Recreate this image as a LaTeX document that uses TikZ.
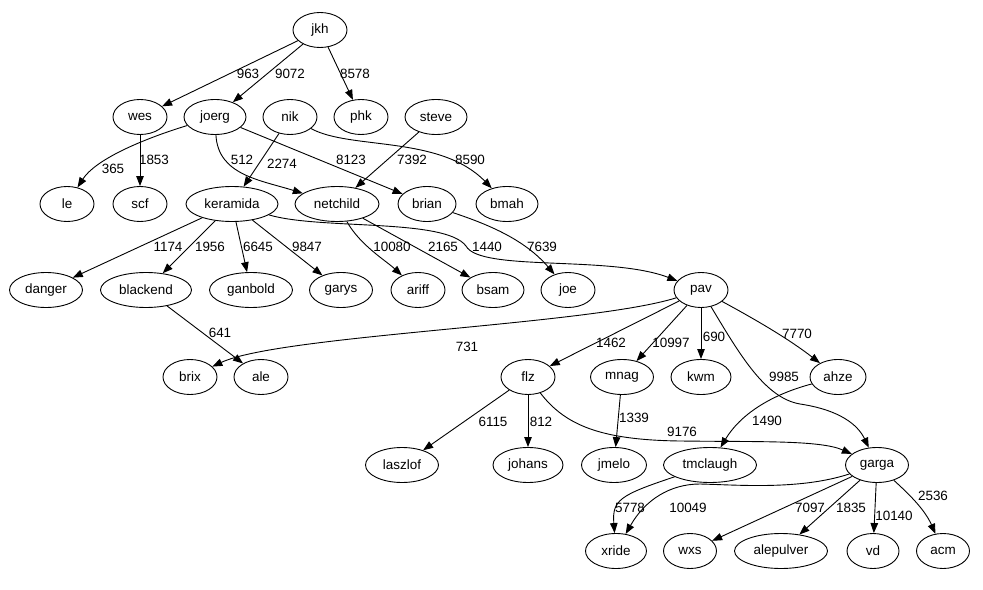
\documentclass[tikz,border=0pt]{standalone}
\usepackage{fontspec}
\setmainfont{Liberation Sans}
\usetikzlibrary{arrows.meta,shapes.geometric}
\begin{document}
\begin{tikzpicture}[x=1bp,y=-1bp,
  nd/.style={draw, ellipse, line width=0.9bp, minimum height=35bp, inner sep=0pt, font=\fontsize{13.5}{15}\selectfont},
  ed/.style={draw, line width=0.9bp, -{Triangle[length=10bp,width=7.5bp]}},
  lb/.style={font=\fontsize{13.5}{15}\selectfont, inner sep=0pt}]
\useasboundingbox[fill=white] (0,0) rectangle (983,590);
% nodes
\node[nd,minimum width=54bp] (jkh) at (320,30) {jkh};
\node[nd,minimum width=54bp] (wes) at (140,117) {wes};
\node[nd,minimum width=62bp] (joerg) at (215,117) {joerg};
\node[nd,minimum width=54bp] (nik) at (290,117) {nik};
\node[nd,minimum width=54bp] (phk) at (361,117) {phk};
\node[nd,minimum width=62bp] (steve) at (436,117) {steve};
\node[nd,minimum width=54bp] (le) at (67,204) {le};
\node[nd,minimum width=54bp] (scf) at (140,204) {scf};
\node[nd,minimum width=92bp] (keramida) at (232,204) {keramida};
\node[nd,minimum width=84bp] (netchild) at (337,204) {netchild};
\node[nd,minimum width=58bp] (brian) at (427,204) {brian};
\node[nd,minimum width=62bp] (bmah) at (507,204) {bmah};
\node[nd,minimum width=73bp] (danger) at (46,290) {danger};
\node[nd,minimum width=91bp] (blackend) at (146,290) {blackend};
\node[nd,minimum width=83bp] (ganbold) at (251,290) {ganbold};
\node[nd,minimum width=63bp] (garys) at (341,290) {garys};
\node[nd,minimum width=54bp] (ariff) at (418,290) {ariff};
\node[nd,minimum width=62bp] (bsam) at (493,290) {bsam};
\node[nd,minimum width=54bp] (joe) at (568,290) {joe};
\node[nd,minimum width=54bp] (pav) at (701,290) {pav};
\node[nd,minimum width=54bp] (brix) at (190,377) {brix};
\node[nd,minimum width=54bp] (ale) at (261,377) {ale};
\node[nd,minimum width=54bp] (flz) at (528,377) {flz};
\node[nd,minimum width=63bp] (mnag) at (622,377) {mnag};
\node[nd,minimum width=60bp] (kwm) at (701,377) {kwm};
\node[nd,minimum width=56bp] (ahze) at (838,377) {ahze};
\node[nd,minimum width=73bp] (laszlof) at (402,465) {laszlof};
\node[nd,minimum width=70bp] (johans) at (528,465) {johans};
\node[nd,minimum width=65bp] (jmelo) at (614,465) {jmelo};
\node[nd,minimum width=93bp] (tmclaugh) at (710,465) {tmclaugh};
\node[nd,minimum width=63bp] (garga) at (877,465) {garga};
\node[nd,minimum width=61bp] (xride) at (616,551) {xride};
\node[nd,minimum width=53bp] (wxs) at (690,551) {wxs};
\node[nd,minimum width=93bp] (alepulver) at (781,551) {alepulver};
\node[nd,minimum width=52bp] (vd) at (873,551) {vd};
\node[nd,minimum width=53bp] (acm) at (943,551) {acm};
% edges
\draw[ed] (jkh) -- (wes);
\draw[ed] (jkh) -- (joerg);
\draw[ed] (jkh) -- (phk);
\draw[ed] (wes) -- (scf);
\draw[ed] (joerg) .. controls (140,140) and (95,160) .. (le);
\draw[ed] (joerg) .. controls (218,175) and (260,180) .. (netchild);
\draw[ed] (joerg) -- (brian);
\draw[ed] (nik) -- (keramida);
\draw[ed] (nik) .. controls (350,150) and (440,135) .. (bmah);
\draw[ed] (steve) -- (netchild);
\draw[ed] (keramida) -- (danger);
\draw[ed] (keramida) -- (blackend);
\draw[ed] (keramida) -- (ganbold);
\draw[ed] (keramida) -- (garys);
\draw[ed] (keramida) .. controls (320,230) and (445,218) .. (466,246) .. controls (480,272) and (610,255) .. (pav);
\draw[ed] (netchild) .. controls (360,245) and (385,260) .. (ariff);
\draw[ed] (netchild) -- (bsam);
\draw[ed] (brian) .. controls (490,225) and (525,240) .. (joe);
\draw[ed] (blackend) -- (ale);
\draw[ed] (pav) .. controls (590,325) and (280,335) .. (brix);
\draw[ed] (pav) -- (flz);
\draw[ed] (pav) -- (mnag);
\draw[ed] (pav) -- (kwm);
\draw[ed] (pav) .. controls (760,322) and (790,340) .. (ahze);
\draw[ed] (pav) .. controls (740,355) and (765,398) .. (800,404) .. controls (840,410) and (858,425) .. (garga);
\draw[ed] (flz) -- (laszlof);
\draw[ed] (flz) -- (johans);
\draw[ed] (flz) .. controls (565,425) and (600,440) .. (680,441) .. controls (760,442) and (820,440) .. (garga);
\draw[ed] (mnag) -- (jmelo);
\draw[ed] (ahze) .. controls (770,395) and (740,415) .. (tmclaugh);
\draw[ed] (tmclaugh) .. controls (620,495) and (612,500) .. (xride);
\draw[ed] (garga) .. controls (800,490) and (740,485) .. (700,484) .. controls (670,484) and (645,500) .. (xride);
\draw[ed] (garga) -- (wxs);
\draw[ed] (garga) -- (alepulver);
\draw[ed] (garga) -- (vd);
\draw[ed] (garga) .. controls (910,495) and (925,510) .. (acm);
% labels
\node[lb] (l963) at (248,74) {963};
\node[lb] (l9072) at (290,74) {9072};
\node[lb] (l8578) at (355,74) {8578};
\node[lb] (l365) at (113,169) {365};
\node[lb] (l1853) at (154,160) {1853};
\node[lb] (l512) at (242,160) {512};
\node[lb] (l2274) at (282,164) {2274};
\node[lb] (l8123) at (351,160) {8123};
\node[lb] (l7392) at (412,160) {7392};
\node[lb] (l8590) at (470,160) {8590};
\node[lb] (l1174) at (168,247) {1174};
\node[lb] (l1956) at (210,247) {1956};
\node[lb] (l6645) at (258,247) {6645};
\node[lb] (l9847) at (307,247) {9847};
\node[lb] (l10080) at (392,247) {10080};
\node[lb] (l2165) at (443,247) {2165};
\node[lb] (l1440) at (487,247) {1440};
\node[lb] (l7639) at (542,247) {7639};
\node[lb] (l641) at (220,333) {641};
\node[lb] (l731) at (467,347) {731};
\node[lb] (l1462) at (611,343) {1462};
\node[lb] (l10997) at (671,343) {10997};
\node[lb] (l690) at (714,337) {690};
\node[lb] (l7770) at (797,334) {7770};
\node[lb] (l9985) at (784,377) {9985};
\node[lb] (l6115) at (493,422) {6115};
\node[lb] (l812) at (541,422) {812};
\node[lb] (l1339) at (634,418) {1339};
\node[lb] (l9176) at (682,432) {9176};
\node[lb] (l1490) at (767,421) {1490};
\node[lb] (l5778) at (630,508) {5778};
\node[lb] (l10049) at (688,508) {10049};
\node[lb] (l7097) at (810,508) {7097};
\node[lb] (l1835) at (851,508) {1835};
\node[lb] (l10140) at (894,516) {10140};
\node[lb] (l2536) at (933,496) {2536};
\end{tikzpicture}
\end{document}
